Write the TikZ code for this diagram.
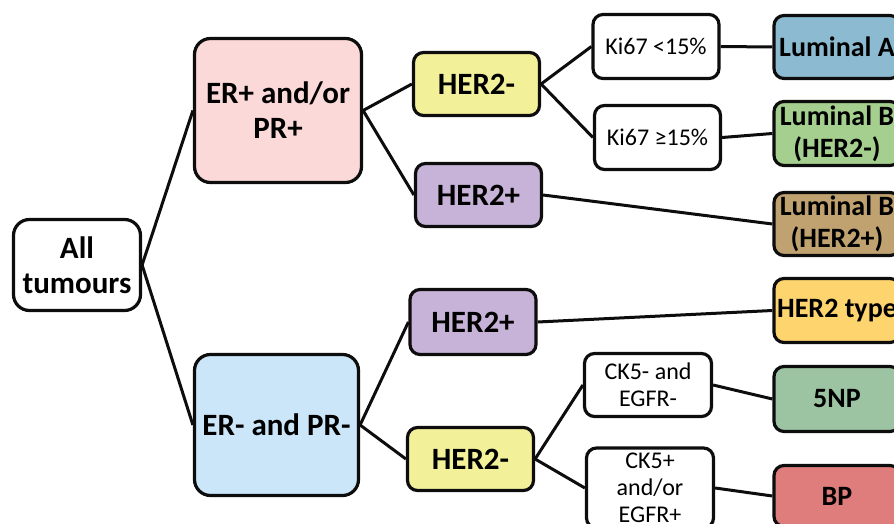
\documentclass[tikz,border=0pt]{standalone}
\usepackage{fontspec}
\setmainfont{Carlito}
\definecolor{inkc}{HTML}{0D0D0D}
\definecolor{erpos}{HTML}{FAD9D8}
\definecolor{erneg}{HTML}{CBE6F8}
\definecolor{hneg}{HTML}{F2F19A}
\definecolor{hpos}{HTML}{C7B3D7}
\definecolor{luma}{HTML}{8CBBD1}
\definecolor{lumbn}{HTML}{A5CF8E}
\definecolor{lumbp}{HTML}{BFA26F}
\definecolor{htype}{HTML}{FDD46D}
\definecolor{fivenp}{HTML}{9DC4A2}
\definecolor{bpc}{HTML}{DF7C7C}
\tikzset{
  box/.style={draw=inkc, line width=3.2pt, rounded corners=10pt, align=center,
    inner sep=0pt, fill=white},
  bigbox/.style={box, rounded corners=16pt, font=\bfseries\fontsize{31}{35}\selectfont},
  midbox/.style={box, minimum width=126pt, minimum height=63pt,
    font=\bfseries\fontsize{31}{35}\selectfont},
  testbox/.style={box, minimum width=126pt, minimum height=64pt,
    font=\fontsize{24}{27}\selectfont},
  leafbox/.style={box, minimum width=126pt, minimum height=63pt,
    font=\bfseries\fontsize{28}{32}\selectfont},
  link/.style={draw=inkc, line width=3pt}
}
\begin{document}
\begin{tikzpicture}[x=1pt,y=-1pt]
\useasboundingbox (0,0) rectangle (894,524);

% root and receptor split
\node[bigbox, minimum width=127pt, minimum height=91pt] (all) at (77,265) {All\\tumours};
\node[bigbox, fill=erpos, minimum width=167pt, minimum height=144pt] (erp) at (278,110.5) {ER+ and/or\\PR+};
\node[bigbox, fill=erneg, minimum width=164pt, minimum height=141pt] (ern) at (276.5,425) {ER- and PR-};

% HER2 status
\node[midbox, fill=hneg] (hnu) at (476.5,84) {HER2-};
\node[midbox, fill=hpos] (hpu) at (478.5,195) {HER2+};
\node[midbox, fill=hpos, minimum height=65pt] (hpl) at (473,322) {HER2+};
\node[midbox, fill=hneg] (hnl) at (470.5,459) {HER2-};

% further markers
\node[testbox] (kia) at (656,46.5) {Ki67 <15\%};
\node[testbox] (kib) at (657.5,137.5) {Ki67 ≥15\%};
\node[testbox, minimum width=127pt, minimum height=63pt] (cka) at (648,385) {CK5- and\\EGFR-};
\node[testbox, minimum width=127pt, minimum height=80pt] (ckb) at (650,488) {CK5+\\and/or\\EGFR+};

% subtypes
\node[leafbox, fill=luma] (luma) at (837,47) {Luminal A};
\node[leafbox, fill=lumbn, minimum height=64pt] (lumbn) at (837,133.5) {Luminal B\\(HER2-)};
\node[leafbox, fill=lumbp] (lumbp) at (837,224) {Luminal B\\(HER2+)};
\node[leafbox, fill=htype, minimum height=64pt] (htype) at (837,310.5) {HER2 type};
\node[leafbox, fill=fivenp, minimum height=65pt] (np) at (837,399) {5NP};
\node[leafbox, fill=bpc, minimum height=61pt] (bp) at (837,496) {BP};

% connectors
\draw[link] (all.east) -- (erp.west);
\draw[link] (all.east) -- (ern.west);
\draw[link] (erp.east) -- (hnu.west);
\draw[link] (erp.east) -- (hpu.west);
\draw[link] (ern.east) -- (hpl.west);
\draw[link] (ern.east) -- (hnl.west);
\draw[link] (hnu.east) -- (kia.west);
\draw[link] (hnu.east) -- (kib.west);
\draw[link] (kia.east) -- (luma.west);
\draw[link] (kib.east) -- (lumbn.west);
\draw[link] (hpu.east) -- (lumbp.west);
\draw[link] (hpl.east) -- (htype.west);
\draw[link] (hnl.east) -- (cka.west);
\draw[link] (hnl.east) -- (ckb.west);
\draw[link] (cka.east) -- (np.west);
\draw[link] (ckb.east) -- (bp.west);
\end{tikzpicture}
\end{document}
